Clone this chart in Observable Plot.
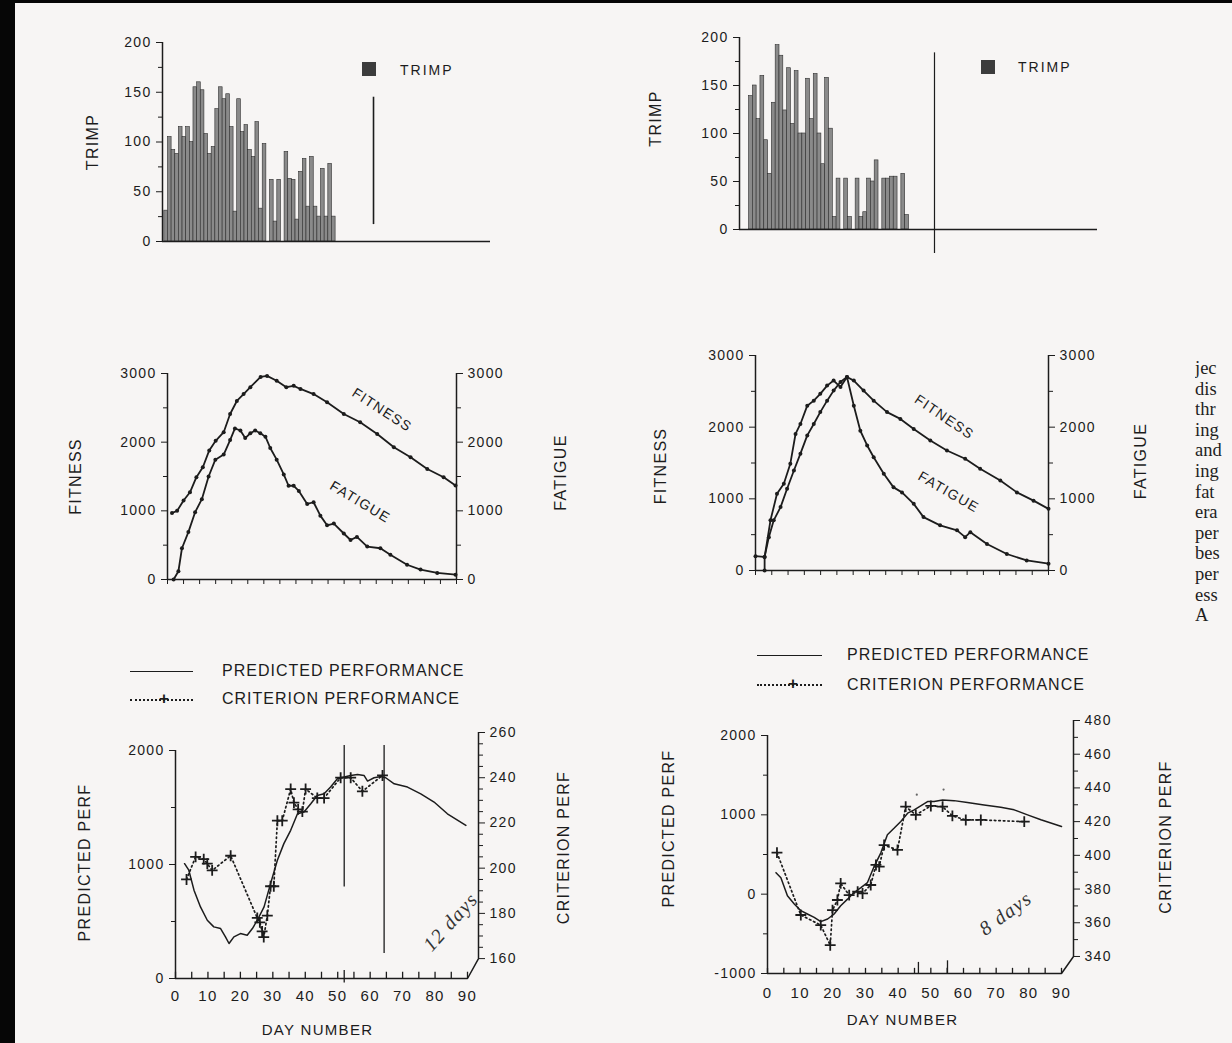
<!DOCTYPE html>
<html><head><meta charset="utf-8">
<script src="https://cdn.jsdelivr.net/npm/d3@7"></script>
<script src="https://cdn.jsdelivr.net/npm/@observablehq/plot@0.6"></script>
<style>
body{margin:0;background:#f7f5f4;}
#page{position:relative;width:1232px;height:1043px;background:#f7f5f4;overflow:hidden;font-family:"Liberation Sans",Arial,Helvetica,sans-serif;color:#1c1c1c}
.blk{position:absolute;background:#060606}
.lg{position:absolute;font-size:16px;line-height:18px;letter-spacing:1px;white-space:nowrap;color:#1c1c1c}
.sw{position:absolute;width:14px;height:14px;background:#3c3c3c}
.solid{position:absolute;height:0;border-top:1.4px solid #1c1c1c}
.dotted{position:absolute;height:0;border-top:2px dotted #1c1c1c}
.plus{position:absolute;font-size:17px;font-weight:bold;line-height:18px;color:#1c1c1c}
#col{position:absolute;left:1195px;top:358px;width:27px;overflow:hidden;font-family:"Liberation Serif","DejaVu Serif",serif;font-size:18.5px;line-height:20.6px;color:#1e1e1e;white-space:nowrap}
</style></head>
<body><div id="page">
<div class="blk" style="left:0;top:0;width:15px;height:1043px"></div>
<div class="blk" style="left:0;top:0;width:1232px;height:3px"></div>

<div class="sw" style="left:362px;top:62px"></div>
<div class="lg" style="left:400px;top:61px;font-size:14px;letter-spacing:2px">TRIMP</div>
<div class="sw" style="left:981px;top:60px"></div>
<div class="lg" style="left:1018px;top:58px;font-size:14px;letter-spacing:2px">TRIMP</div>

<div class="solid" style="left:130px;top:671px;width:63px"></div>
<div class="lg" style="left:222px;top:662px">PREDICTED PERFORMANCE</div>
<div class="dotted" style="left:130px;top:699px;width:63px"></div>
<div class="plus" style="left:159px;top:690px">+</div>
<div class="lg" style="left:222px;top:690px">CRITERION PERFORMANCE</div>

<div class="solid" style="left:757px;top:655px;width:65px"></div>
<div class="lg" style="left:847px;top:646px">PREDICTED PERFORMANCE</div>
<div class="dotted" style="left:757px;top:684px;width:65px"></div>
<div class="plus" style="left:788px;top:675px">+</div>
<div class="lg" style="left:847px;top:676px">CRITERION PERFORMANCE</div>

<div id="col">jec<br>dis<br>thr<br>ing<br>and<br>ing<br>fat<br>era<br>per<br>bes<br>per<br>ess<br>A</div>
</div>
<script>
// ---------------- DATA ----------------
// daily training impulse (TRIMP)
const trimpLeft = [31,105,92,88,115,105,115,100,155,160,152,108,88,95,133,155,143,148,115,30,143,110,117,92,85,120,33,98,0,62,20,62,0,90,63,62,22,70,83,35,85,35,25,73,25,78,25];
const trimpLeftFirstDay = 1;
const trimpRight = [139,150,115,160,93,58,132,192,181,124,168,110,165,100,100,157,115,162,100,68,158,105,13,53,0,53,13,0,53,13,18,53,50,72,0,53,53,55,55,0,58,15];
const trimpRightFirstDay = 3;
const trimpTicks = [0,50,100,150,200];
const trimpMinorTicks = [25,75,125,175];
const trimpMarkLeft = [{day:57.9, from:17, to:145}];
const trimpMarkRight = [{day:51.2, from:-25, to:184}];

// fitness / fatigue  [day, value]
const fitnessLeft = [[1.4,968],[3,1000],[5,1150],[7,1270],[9,1490],[11,1635],[13,1880],[15,2020],[17.5,2145],[19.5,2410],[21.6,2600],[23.7,2700],[25.8,2800],[29,2950],[31,2965],[34,2895],[37,2800],[39.3,2820],[41.4,2775],[45.5,2700],[49.7,2580],[54.9,2410],[60,2290],[65.3,2120],[70.5,1925],[75.7,1780],[80.9,1610],[86,1490],[89.7,1370]];
const fatigueLeft = [[1.9,0],[3.4,120],[4.5,455],[6.5,690],[8.6,980],[10.7,1170],[12.8,1500],[14.9,1745],[17.5,1820],[19.5,2030],[21,2200],[22.7,2170],[24.2,2060],[25.8,2130],[27.3,2170],[28.9,2130],[30.5,2080],[32,1915],[34,1745],[36.2,1530],[37.7,1365],[39.3,1365],[40.9,1290],[43.5,1100],[45.5,1125],[47.6,930],[49.7,790],[51.8,815],[54.9,670],[57,575],[59,620],[62.2,480],[66.3,455],[69.4,360],[74.6,215],[78.8,145],[84,95],[89.7,70]];
const fitnessRight = [[0,200],[2.8,190],[4.1,465],[5.6,700],[7.7,885],[9.7,1140],[11.8,1395],[13.8,1630],[15.9,1885],[17.9,2045],[19.9,2210],[22,2370],[24,2510],[26.1,2630],[28.1,2700],[30.2,2650],[33.2,2510],[36.3,2370],[40.4,2210],[44.5,2115],[48.6,1975],[53.7,1815],[58.8,1675],[64.4,1560],[69,1420],[75.2,1255],[80.3,1090],[85.4,975],[90,860]];
const fatigueRight = [[2.8,0],[2.8,190],[4.6,700],[6.6,1070],[8.7,1210],[10.7,1490],[12.3,1905],[13.8,2045],[15.9,2300],[17.9,2370],[19.9,2465],[22,2580],[24,2650],[26.1,2560],[28.1,2700],[30.2,2300],[32.2,1950],[34.3,1745],[36.3,1580],[39.4,1350],[42.4,1160],[45,1090],[48.6,930],[51.6,745],[56.7,630],[61.9,560],[64.4,465],[66,535],[71.1,370],[77.2,230],[83.3,140],[90,95]];
const fitTicks = [0,1000,2000,3000];
const fitMinorTicks = [500,1500,2500];
const curveLabelsLeft = [{label:"FITNESS", day:66.8, value:2468, angle:33},{label:"FATIGUE", day:60.0, value:1127, angle:31}];
const curveLabelsRight = [{label:"FITNESS", day:58.0, value:2139, angle:34},{label:"FATIGUE", day:59.3, value:1093, angle:30}];

// performance  [day, value]
const predictedLeft = [[2.8,1007],[4.1,950],[5.7,775],[7.7,628],[9.8,511],[11.8,453],[13.9,438],[15.4,365],[16.5,307],[18,365],[20,394],[22.1,380],[23.7,438],[25.2,511],[27.3,628],[29.3,832],[31.4,1037],[33.4,1183],[35.5,1300],[37.6,1445],[39.6,1460],[41.7,1533],[43.7,1606],[45.8,1620],[47.8,1679],[49.9,1752],[52,1767],[54,1781],[56.1,1790],[58.1,1781],[59.2,1732],[61.2,1761],[63.3,1772],[64.8,1761],[67.4,1708],[71.5,1679],[75.6,1620],[79.7,1548],[83.8,1445],[89.5,1343]];
const criterionLeft = [[3.4,195],[6.2,205],[8.7,204],[9.8,202],[11.3,199],[17,205.5],[25.2,178],[26,176],[26.7,172],[27.2,169.5],[28.3,179],[29.3,192],[30.3,192],[31.4,221],[32.9,221],[35.5,235],[36.5,229],[37.8,226],[39.1,225],[40.1,235],[43.7,231],[45.8,231],[50.9,240],[54,240],[57.6,234],[63.8,241]];
const predictedRight = [[2.6,271],[4.1,208],[6.1,-21],[8.2,-125],[10.2,-208],[12.2,-250],[14.3,-292],[16.3,-346],[18.4,-313],[20.4,-250],[22.4,-146],[24.5,-63],[26.5,21],[28.6,83],[30.6,146],[32.7,354],[34.7,521],[36.7,750],[38.8,833],[40.8,917],[42.9,1021],[44.9,1063],[46.9,1113],[49,1167],[51,1167],[53.6,1188],[57.1,1179],[61.2,1154],[66.3,1125],[71.4,1096],[75.5,1063],[79.6,1000],[83.7,938],[90,854]];
const criterionRight = [[2.9,401.6],[10.2,364.6],[16.3,358.6],[19.2,346.7],[19.9,367.5],[21.4,373.5],[22.4,383.4],[25,376.4],[27.6,378.4],[29.1,377.4],[31.6,382.4],[33.2,394.3],[34.2,393.3],[35.7,406.1],[39.8,403.2],[42.3,428.9],[45.4,424],[50,429.3],[53.6,428.9],[56.6,423.4],[60.7,421],[65.3,421],[78.6,420]];
const strayRight = [[45.7,436],[53.9,439]];
const perfMarksLeft = [{day:52, from:803, to:2044},{day:64.3, from:219, to:2044},{day:52, from:-40, to:70}];
const perfMarksRight = [{day:46.2, from:-1000, to:-860},{day:55.1, from:-1000, to:-840}];
const handLeft = [{label:"12 days", day:84.8, value:496, angle:-48}];
const handRight = [{label:"8 days", day:72.9, value:-244, angle:-36}];

const dayTicks = [0,10,20,30,40,50,60,70,80,90];
const fiveDayTicks = [0,5,10,15,20,25,30,35,40,45,50,55,60,65,70,75,80,85,90];
const predTicksLeft = [0,1000,2000];
const predMinorLeft = [500,1500];
const critTicksLeft = [160,180,200,220,240,260];
const critMinorLeft = [165,170,175,185,190,195,205,210,215,225,230,235,245,250,255];
const critDomainLeft = [151.2,260];
const predTicksRight = [-1000,0,1000,2000];
const predMinorRight = [-500,500,1500];
const critTicksRight = [340,360,380,400,420,440,460,480];
const critMinorRight = [350,370,390,410,430,450,470];
const critDomainRight = [329.9,480];

// ---------------- LAYOUT ----------------
const page = document.getElementById("page");
const INK = "#1c1c1c";
const BAR = "#8a8a8a";
const FONT = "'Liberation Sans', Arial, Helvetica, sans-serif";
const M = {left:110, right:110, top:30, bottom:70};
const fmt = d => String(d);
const blank = () => "";
const style = {background:"transparent", overflow:"visible", fontFamily:FONT, fontSize:"14px", color:INK, letterSpacing:"1.3px"};

function render(frame, opts) {
  const p = Plot.plot({
    width: frame.x1 - frame.x0 + M.left + M.right,
    height: frame.y1 - frame.y0 + M.top + M.bottom,
    marginLeft: M.left, marginRight: M.right, marginTop: M.top, marginBottom: M.bottom,
    style, ...opts
  });
  p.style.position = "absolute";
  p.style.left = (frame.x0 - M.left) + "px";
  p.style.top = (frame.y0 - M.top) + "px";
  p.style.maxWidth = "none";
  p.querySelectorAll('[aria-label="title"] text').forEach(t => t.style.letterSpacing = "2.5px");
  p.querySelectorAll('[aria-label="hand"] text').forEach(t => t.style.letterSpacing = "0px");
  page.appendChild(p);
  return p;
}
const title = (t, anchor, dx, dy, rotate, size = 16) =>
  Plot.text([t], {text: d => d, frameAnchor: anchor, textAnchor: "middle", lineAnchor: "middle", dx, dy, rotate, fontSize: size, ariaLabel: "title"});

// ---- A: TRIMP left ----
const frameA = {x0:162, x1:490, y0:42, y1:241};
const trimpA = trimpLeft.map((v, i) => ({day: trimpLeftFirstDay + i, v}));
render(frameA, {
  x: {domain:[0,90], axis:null, label:null},
  y: {domain:[0,200], label:null},
  marks: [
    Plot.rectY(trimpA, {x1: d => d.day - 0.5, x2: d => d.day + 0.5, y: "v", fill: BAR, stroke: "#2e2e2e", strokeWidth: 0.6}),
    Plot.axisY({ticks: trimpMinorTicks, tickSize: 4, tickFormat: blank, label: null}),
    Plot.axisY({ticks: trimpTicks, tickSize: 6, tickPadding: 5, tickFormat: fmt, label: null}),
    Plot.ruleX([0], {strokeWidth: 1.5}),
    Plot.ruleY([0], {strokeWidth: 1.5}),
    Plot.ruleX(trimpMarkLeft, {x: "day", y1: "from", y2: "to", strokeWidth: 1.6}),
    title("TRIMP", "left", -70, 0, -90)
  ]
});

// ---- B: TRIMP right ----
const frameB = {x0:739, x1:1097, y0:37, y1:229};
const trimpB = trimpRight.map((v, i) => ({day: trimpRightFirstDay + i, v}));
render(frameB, {
  x: {domain:[0,94], axis:null, label:null},
  y: {domain:[0,200], label:null},
  marks: [
    Plot.rectY(trimpB, {x1: d => d.day - 0.5, x2: d => d.day + 0.5, y: "v", fill: BAR, stroke: "#2e2e2e", strokeWidth: 0.6}),
    Plot.axisY({ticks: trimpMinorTicks, tickSize: 4, tickFormat: blank, label: null}),
    Plot.axisY({ticks: trimpTicks, tickSize: 6, tickPadding: 5, tickFormat: fmt, label: null}),
    Plot.ruleX([0], {strokeWidth: 1.5}),
    Plot.ruleY([0], {strokeWidth: 1.5}),
    Plot.ruleX(trimpMarkRight, {x: "day", y1: "from", y2: "to", strokeWidth: 1.2}),
    title("TRIMP", "left", -84, -15, -90)
  ]
});

// ---- C / D: fitness & fatigue ----
function fitPanel(frame, fit, fat, labels, lx, rx, ldy, rdy) {
  render(frame, {
    x: {domain:[0,90], label:null},
    y: {domain:[0,3000], label:null},
    marks: [
      Plot.axisY({ticks: fitMinorTicks, tickSize: 4, tickFormat: blank, label: null}),
      Plot.axisY({ticks: fitTicks, tickSize: 6, tickPadding: 5, tickFormat: fmt, label: null}),
      Plot.axisY({anchor: "right", ticks: fitMinorTicks, tickSize: 4, tickFormat: blank, label: null}),
      Plot.axisY({anchor: "right", ticks: fitTicks, tickSize: 6, tickPadding: 5, tickFormat: fmt, label: null}),
      Plot.axisX({ticks: fiveDayTicks, tickSize: 5, tickFormat: blank, label: null}),
      Plot.ruleX([0], {strokeWidth: 1.5}),
      Plot.ruleX([90], {strokeWidth: 1.5}),
      Plot.ruleY([0], {strokeWidth: 1.5}),
      Plot.line(fit, {x: d => d[0], y: d => d[1], strokeWidth: 1.8}),
      Plot.dot(fit, {x: d => d[0], y: d => d[1], r: 2, fill: INK}),
      Plot.line(fat, {x: d => d[0], y: d => d[1], strokeWidth: 1.8}),
      Plot.dot(fat, {x: d => d[0], y: d => d[1], r: 2, fill: INK}),
      Plot.text(labels, {x: "day", y: "value", text: "label", rotate: d => d.angle, fontSize: 14}),
      title("FITNESS", "left", lx, ldy, -90),
      title("FATIGUE", "right", rx, rdy, -90)
    ]
  });
}
const frameC = {x0:167, x1:456, y0:373, y1:579};
fitPanel(frameC, fitnessLeft, fatigueLeft, curveLabelsLeft, -92, 104, 0, -4);
const frameD = {x0:755, x1:1048, y0:355, y1:570};
fitPanel(frameD, fitnessRight, fatigueRight, curveLabelsRight, -95, 92, 3, -2);

// ---- E / F: performance ----
function perfMain(frame, yDomain, pTicks, pMinor, pred, marks, hand, tickLen, padding, lx, ldy, dnx, dny) {
  const y0 = yDomain[0];
  render(frame, {
    x: {domain:[0,90], label:null},
    y: {domain: yDomain, label:null},
    marks: [
      Plot.axisY({ticks: pMinor, tickSize: 4, tickFormat: blank, label: null}),
      Plot.axisY({ticks: pTicks, tickSize: 6, tickPadding: 5, tickFormat: fmt, label: null}),
      Plot.axisX({ticks: dayTicks, tickSize: 0, tickPadding: padding, tickFormat: fmt, label: null, fontSize: 15}),
      Plot.ruleX(fiveDayTicks, {x: d => d, y1: y0, y2: y0 + tickLen, strokeWidth: 1.3}),
      Plot.ruleX([0], {strokeWidth: 1.5}),
      Plot.ruleY([y0], {strokeWidth: 1.5}),
      Plot.ruleX(marks, {x: "day", y1: "from", y2: "to", strokeWidth: 1.3}),
      Plot.line(pred, {x: d => d[0], y: d => d[1], strokeWidth: 1.5}),
      Plot.text(hand, {x: "day", y: "value", text: "label", rotate: d => d.angle, fontFamily: "'Liberation Serif', 'DejaVu Serif', serif", fontStyle: "italic", fontSize: 20, fill: "#333", ariaLabel: "hand"}),
      title("PREDICTED PERF", "left", lx, ldy, -90),
      title("DAY NUMBER", "bottom", dnx, dny, 0, 15)
    ]
  });
}
function perfOverlay(frame, mainFrame, cDomain, cTicks, cMinor, crit, stray, rx, rdy) {
  const xmax = 90 * (frame.x1 - frame.x0) / (mainFrame.x1 - mainFrame.x0);
  render(frame, {
    x: {domain:[0, xmax], axis:null, label:null},
    y: {domain: cDomain, label:null},
    marks: [
      Plot.axisY({anchor: "right", ticks: cMinor, tickSize: 4, tickFormat: blank, label: null}),
      Plot.axisY({anchor: "right", ticks: cTicks, tickSize: 6, tickPadding: 5, tickFormat: fmt, label: null}),
      Plot.ruleX([xmax], {y1: cTicks[0], y2: cTicks[cTicks.length - 1], strokeWidth: 1.5}),
      Plot.line([[dayTicks[dayTicks.length - 1], cDomain[0]], [xmax, cTicks[0]]], {strokeWidth: 1.5}),
      Plot.line(crit, {x: d => d[0], y: d => d[1], strokeWidth: 1.7, strokeDasharray: "1.5,3"}),
      Plot.dot(crit, {x: d => d[0], y: d => d[1], symbol: "plus", r: 3.6, fill: "none", stroke: INK, strokeWidth: 1.8}),
      Plot.dot(stray, {x: d => d[0], y: d => d[1], r: 1.1, fill: "#666"}),
      title("CRITERION PERF", "right", rx, rdy, -90)
    ]
  });
}
const frameE = {x0:175, x1:467, y0:750, y1:978};
const frameEo = {x0:175, x1:478, y0:732, y1:978};
perfMain(frameE, [0,2000], predTicksLeft, predMinorLeft, predictedLeft, perfMarksLeft, handLeft, 55, 12, -91, -2, -4, 52);
perfOverlay(frameEo, frameE, critDomainLeft, critTicksLeft, critMinorLeft, criterionLeft, [], 85, -8);

const frameF = {x0:767, x1:1061, y0:735, y1:973};
const frameFo = {x0:767, x1:1073, y0:720, y1:973};
perfMain(frameF, [-1000,2000], predTicksRight, predMinorRight, predictedRight, perfMarksRight, handRight, 65, 14, -99, -26, -12, 47);
perfOverlay(frameFo, frameF, critDomainRight, critTicksRight, critMinorRight, criterionRight, strayRight, 92, -10);
</script>
</body></html>
